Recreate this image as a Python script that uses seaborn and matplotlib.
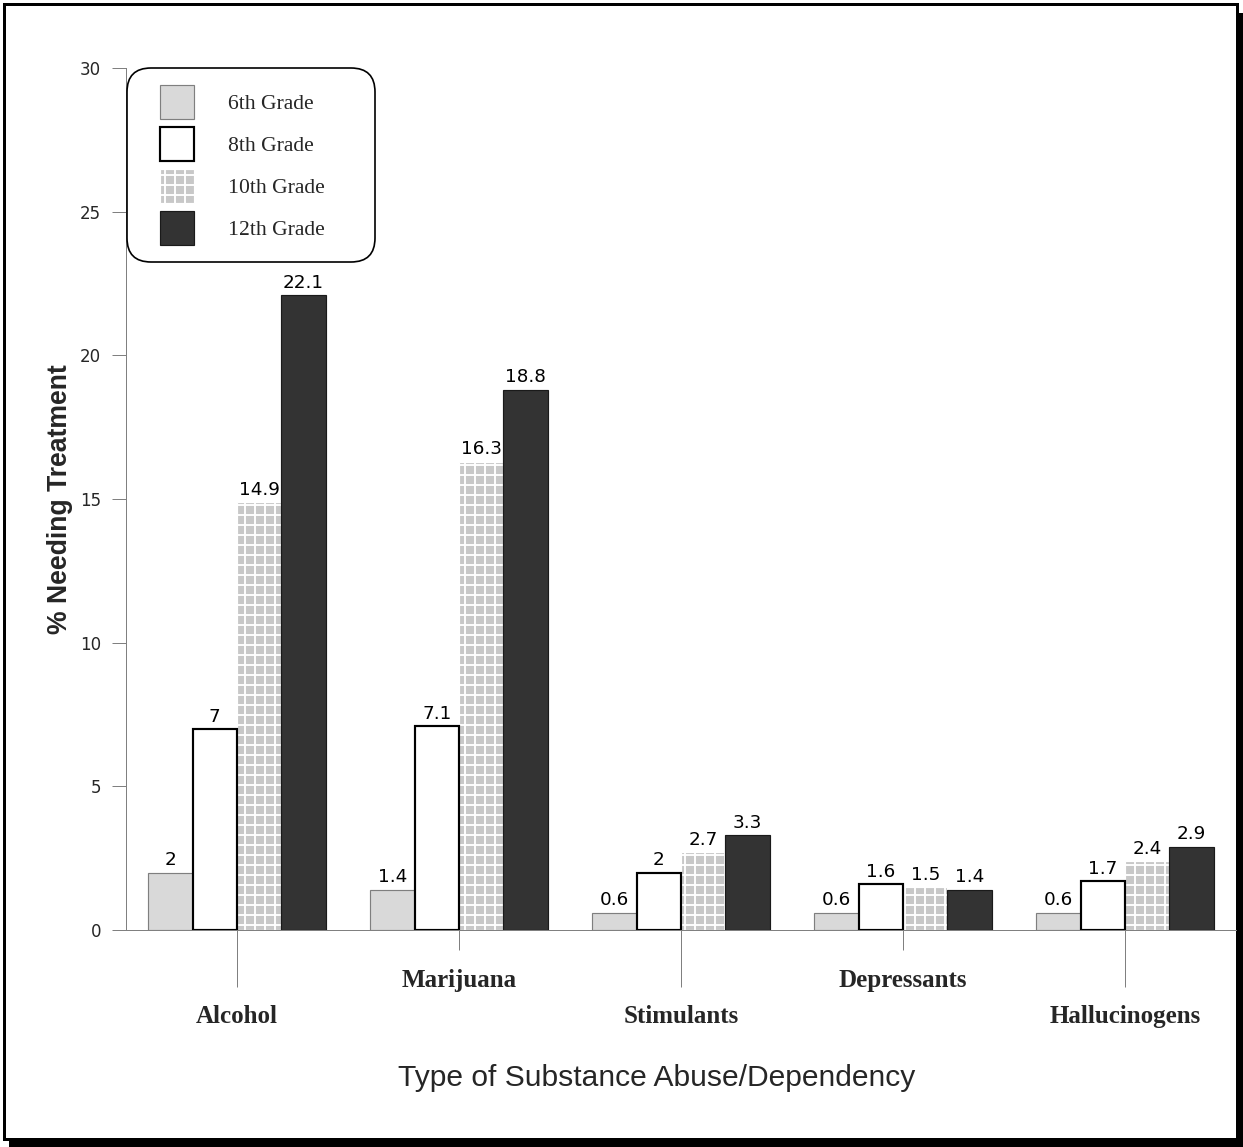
import numpy as np
import pandas as pd
import matplotlib
matplotlib.use("Agg")
import matplotlib.pyplot as plt
import seaborn as sns
from matplotlib.patches import Rectangle, FancyBboxPatch
from matplotlib.transforms import IdentityTransform

# ---------------- data ----------------
categories = ["Alcohol", "Marijuana", "Stimulants", "Depressants", "Hallucinogens"]
grades = ["6th Grade", "8th Grade", "10th Grade", "12th Grade"]
grade6 = [2, 1.4, 0.6, 0.6, 0.6]
grade8 = [7, 7.1, 2, 1.6, 1.7]
grade10 = [14.9, 16.3, 2.7, 1.5, 2.4]
grade12 = [22.1, 18.8, 3.3, 1.4, 2.9]
yticks = [0, 5, 10, 15, 20, 25, 30]
major_cats = ["Alcohol", "Stimulants", "Hallucinogens"]
minor_cats = ["Marijuana", "Depressants"]

series = [grade6, grade8, grade10, grade12]
df = pd.DataFrame({
    "Substance": [c for _ in grades for c in categories],
    "Grade": [g for g in grades for _ in categories],
    "Percent": [v for s in series for v in s],
})

# ---------------- figure ----------------
W, H, DPI = 1243, 1147, 120
sns.set_style("white")
plt.rcParams["hatch.linewidth"] = 1.15
plt.rcParams["font.family"] = ["DejaVu Sans"]

fig = plt.figure(figsize=(W / DPI, H / DPI), dpi=DPI)
fig.patch.set_facecolor("white")

# page frame with drop shadow
fig.add_artist(Rectangle((9 / W, 0), 1 - 9 / W, 1 - 13 / H, transform=fig.transFigure,
                         facecolor="black", edgecolor="none", zorder=-2))
fig.add_artist(Rectangle((4 / W, 1 - 1139 / H), (1237 - 4) / W, (1139 - 4) / H,
                         transform=fig.transFigure, facecolor="white",
                         edgecolor="black", linewidth=1.8, zorder=-1))

ax = fig.add_axes([126 / W, 1 - 930 / H, (1236 - 126) / W, (930 - 68) / H])
ax.set_facecolor("white")

palette = {"6th Grade": "#d9d9d9", "8th Grade": "#ffffff",
           "10th Grade": "#cccccc", "12th Grade": "#333333"}
sns.barplot(data=df, x="Substance", y="Percent", hue="Grade", order=categories,
            hue_order=grades, palette=palette, width=0.8, saturation=1,
            errorbar=None, legend=False, ax=ax)

styles = [
    dict(fc="#d9d9d9", ec="#7f7f7f", lw=0.7, hatch=None, z=3),
    dict(fc="white", ec="black", lw=1.3, hatch=None, z=3),
    dict(fc="#c8c8c8", ec="white", lw=0.7, hatch="++", z=2),
    dict(fc="#333333", ec="#1a1a1a", lw=0.7, hatch=None, z=3),
]
for cont, st in zip(ax.containers, styles):
    for p in cont:
        p.set_facecolor(st["fc"])
        p.set_edgecolor(st["ec"])
        p.set_linewidth(st["lw"])
        p.set_hatch(st["hatch"])
        p.set_zorder(st["z"])

for cont, vals in zip(ax.containers, series):
    ax.bar_label(cont, labels=[f"{v:g}" for v in vals], padding=2,
                 fontsize=11, family="DejaVu Sans", color="black")

ax.set_xlim(-0.5, 4.5)
ax.set_ylim(0, 30)
ax.set_yticks(yticks)
ax.set_yticklabels([str(t) for t in yticks], fontsize=10)

ax.set_xticks([categories.index(c) for c in major_cats], labels=major_cats,
              fontfamily="Liberation Serif", fontweight="bold", fontsize=15)
ax.set_xticks([categories.index(c) for c in minor_cats], labels=minor_cats, minor=True,
              fontfamily="Liberation Serif", fontweight="bold", fontsize=15)

gray = "#808080"
ax.tick_params(axis="y", left=True, length=8.4, width=0.6, color=gray, pad=6.6,
               direction="out")
ax.tick_params(axis="x", which="major", bottom=True, length=34.2, width=0.6,
               color=gray, pad=11, direction="out")
ax.tick_params(axis="x", which="minor", bottom=True, length=12, width=0.6,
               color=gray, pad=11.5, direction="out")

for side in ["top", "right"]:
    ax.spines[side].set_visible(False)
for side in ["left", "bottom"]:
    ax.spines[side].set_color(gray)
    ax.spines[side].set_linewidth(0.6)

ax.set_ylabel("% Needing Treatment", fontfamily="Liberation Sans", fontweight="bold",
              fontsize=16)
ax.yaxis.set_label_coords((73 - 126) / 1110, 0.5)
ax.set_xlabel("Type of Substance Abuse/Dependency", fontfamily="Liberation Sans",
              fontsize=18)
ax.xaxis.set_label_coords((657 - 126) / 1110, (930 - 1064) / 862)

# legend
frame = FancyBboxPatch((127, H - 262), 248, 194,
                       boxstyle="round,pad=0,rounding_size=24",
                       transform=IdentityTransform(), facecolor="white",
                       edgecolor="black", linewidth=1.0, zorder=4)
frame.set_clip_on(False)
ax.add_artist(frame)

handles = [cont.patches[0] for cont in ax.containers]
leg = ax.legend(handles, grades, loc="upper left",
                bbox_to_anchor=(160 / W, 1 - 85 / H), bbox_transform=fig.transFigure,
                frameon=False, borderpad=0, borderaxespad=0,
                handlelength=1.57, handleheight=2.04, labelspacing=0.37,
                handletextpad=1.57, prop=dict(family="Liberation Serif", size=13))
leg.set_zorder(5)

fig.savefig("out.png", dpi=DPI)
